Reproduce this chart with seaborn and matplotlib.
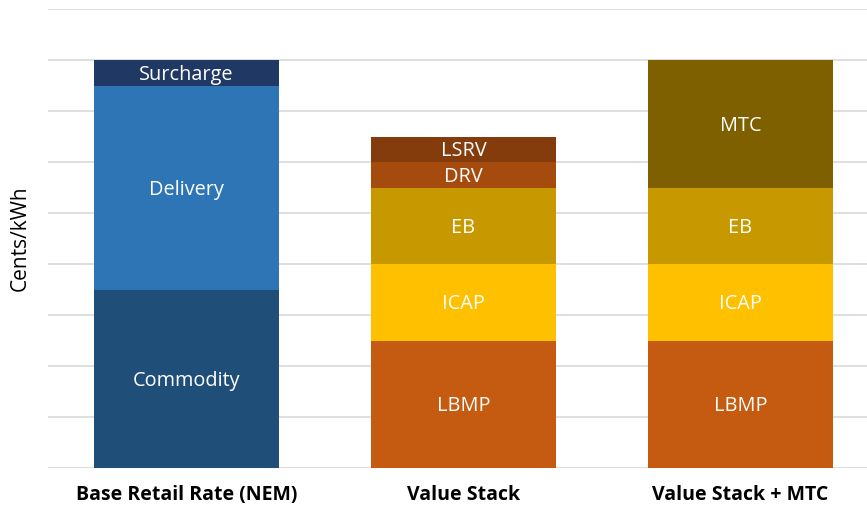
import matplotlib
matplotlib.use("Agg")
import matplotlib.pyplot as plt
import seaborn as sns
import numpy as np

categories = ["Base Retail Rate (NEM)", "Value Stack", "Value Stack + MTC"]
series_names = ["Commodity", "Delivery", "Surcharge", "LBMP", "ICAP", "EB", "DRV", "LSRV", "MTC"]
commodity = [3.5, 0, 0]
delivery = [4.0, 0, 0]
surcharge = [0.5, 0, 0]
lbmp = [0, 2.5, 2.5]
icap = [0, 1.5, 1.5]
eb = [0, 1.5, 1.5]
drv = [0, 0.5, 0]
lsrv = [0, 0.5, 0]
mtc = [0, 0, 2.5]
y_label = "Cents/kWh"

series_values = [commodity, delivery, surcharge, lbmp, icap, eb, drv, lsrv, mtc]
colors = ["#1F4E79", "#2E75B6", "#203864", "#C55A11", "#FFC000",
          "#C89800", "#A64B0E", "#843C0C", "#7F6000"]

sns.set_theme(style="white")
plt.rcParams['font.family'] = ['Open Sans', 'DejaVu Sans']

fig = plt.figure(figsize=(8.67, 5.07), dpi=100)
ax = fig.add_axes([48/867, 39/507, 831/867, 459/507])

bottoms = np.zeros(len(categories))
for name, vals, col in zip(series_names, series_values, colors):
    vals = np.array(vals, dtype=float)
    sns.barplot(x=categories, y=vals, bottom=bottoms, color=col, width=0.665,
                linewidth=0, saturation=1, ax=ax, order=categories)
    for i, v in enumerate(vals):
        if v > 0:
            ax.annotate(name, (i, bottoms[i] + v / 2), xytext=(0, -1.5),
                        textcoords="offset points", ha="center", va="center",
                        color="white", fontsize=14.3)
    bottoms = bottoms + vals

ax.set_xlim(-0.5, 2.5)
ax.set_ylim(0, 9)
ax.set_yticks(np.arange(0, 10, 1))
ax.set_yticklabels([])
ax.yaxis.grid(True, color="#D9D9D9", linewidth=1.2)
ax.set_axisbelow(True)
for s in ax.spines.values():
    s.set_visible(False)
ax.tick_params(axis="both", length=0)
ax.tick_params(axis="x", pad=12)
for t in ax.get_xticklabels():
    t.set_fontweight("bold")
    t.set_fontsize(14)
    t.set_color("black")
ax.set_ylabel(y_label, fontsize=15, color="black", labelpad=9)
ax.set_xlabel("")

fig.savefig("out.png", dpi=100)
